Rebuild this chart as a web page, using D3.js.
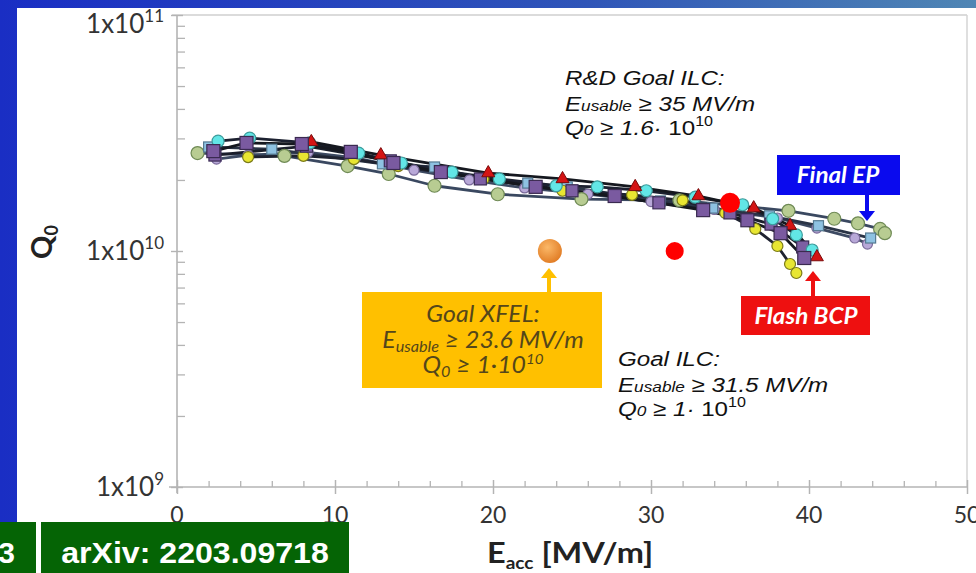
<!DOCTYPE html>
<html><head><meta charset="utf-8">
<script src="https://cdn.jsdelivr.net/npm/d3@7"></script>
<style>html,body{margin:0;padding:0;background:#fff;}svg{display:block;}</style>
</head><body>
<script>
// ---- data (E_acc in MV/m, Q0 in units of 1e10) ----
const xTicks = [0,10,20,30,40,50];
const yTickExps = [9,10,11];
const purpleA = [[2.3,2.65],[4.4,2.87],[7.9,2.84],[11.0,2.63],[13.7,2.36],[16.7,2.16],[22.7,1.87],[27.7,1.71],[33.3,1.49],[36.1,1.35],[38.2,1.19],[39.7,0.934]];
const purpleB = [[2.4,2.55],[8.2,2.78],[13.5,2.41],[19.2,2.02],[25.0,1.80],[30.5,1.60],[35.0,1.45],[37.6,1.30],[39.6,1.04]];
const cyan = [[2.6,2.92],[4.6,3.01],[8.4,2.87],[11.5,2.60],[14.2,2.36],[17.4,2.16],[20.4,2.02],[24.0,1.89],[26.6,1.87],[29.7,1.80],[32.8,1.69],[35.8,1.57],[37.7,1.37],[39.2,1.17],[40.2,1.01]];
const green = [[1.3,2.60],[6.8,2.53],[10.8,2.29],[13.4,2.12],[16.3,1.89],[20.3,1.74],[25.6,1.66],[31.8,1.64],[38.7,1.48],[41.6,1.37],[43.1,1.31],[44.5,1.24],[44.8,1.19]];
const yellow = [[4.5,2.50],[8.0,2.53],[11.2,2.45],[14.0,2.29],[19.4,2.02],[24.4,1.80],[28.8,1.73],[32.0,1.64],[34.7,1.45],[36.6,1.24],[38.0,1.05],[38.8,0.881],[39.2,0.807]];
const red = [[8.5,2.90],[12.9,2.55],[19.7,2.14],[24.4,2.02],[29.0,1.87],[33.0,1.71],[36.5,1.52],[38.8,1.28],[40.5,0.943]];
const lightBlue = [[2.0,2.76],[6.0,2.70],[13.0,2.34],[16.3,2.27],[19.3,2.02],[22.2,1.94],[24.7,1.87],[30.6,1.63],[33.9,1.52],[37.5,1.41],[40.6,1.28],[43.9,1.135]];
const lavender = [[2.5,2.45],[4.5,2.55],[8.3,2.62],[11.3,2.48],[15.0,2.20],[18.5,2.00],[22.0,1.85],[26.0,1.74],[30.0,1.62],[34.0,1.50],[38.0,1.38],[40.5,1.25],[42.9,1.135],[43.7,1.07]];
const goals = [{name:"R&D ILC",e:35,q:1.6,r:10,c:"#ff0000"},{name:"ILC",e:31.5,q:1.0,r:9,c:"#ff0000"}];
const goalXFEL = {e:23.6,q:1.0};

const W=976,H=573;
const svg=d3.select("body").append("svg").attr("width",W).attr("height",H);
const defs=svg.append("defs");
const bg=defs.append("linearGradient").attr("id","bg").attr("x1","0").attr("y1","0").attr("x2","1").attr("y2","0");
bg.append("stop").attr("offset","0").attr("stop-color","#1a2ec4");
bg.append("stop").attr("offset","0.6").attr("stop-color","#2f55b8");
bg.append("stop").attr("offset","1").attr("stop-color","#4f86b4");
const og=defs.append("radialGradient").attr("id","og").attr("cx","0.4").attr("cy","0.35").attr("r","0.7");
og.append("stop").attr("offset","0").attr("stop-color","#fbb868");
og.append("stop").attr("offset","1").attr("stop-color","#e07a22");

svg.append("rect").attr("width",W).attr("height",H).attr("fill","url(#bg)");
svg.append("rect").attr("x",17).attr("y",8).attr("width",W-17).attr("height",H-8).attr("fill","#fff");
svg.append("rect").attr("x",0).attr("y",522).attr("width",17).attr("height",51).attr("fill","#fff");

const x=d3.scaleLinear().domain([0,50]).range([177,967]);
const y=d3.scaleLog().domain([1e9,1e11]).range([487,15]);
const axCol="#b4b4b4";
const LF="Lato, 'Open Sans', sans-serif", AF="'Liberation Sans', Arial, sans-serif";

// stretched text helper
function stext(x0,y0,sx,anchor){
  return svg.append("g").attr("transform",`translate(${x0},${y0}) scale(${sx},1)`)
    .append("text").attr("x",0).attr("y",0).attr("text-anchor",anchor||"start");
}

// frame top & right
svg.append("line").attr("x1",172).attr("x2",967).attr("y1",y(1e11)).attr("y2",y(1e11)).attr("stroke","#cfcfcf").attr("stroke-width",1.5);
svg.append("line").attr("x1",x(50)).attr("x2",x(50)).attr("y1",y(1e11)).attr("y2",y(1e9)).attr("stroke","#d4d4d4").attr("stroke-width",1.5);

// y axis minor ticks (inside)
const yMinor=[];
for(let e=9;e<11;e++) for(let m=2;m<=9;m++) yMinor.push(m*Math.pow(10,e));
const gy=svg.append("g").attr("transform",`translate(${x(0)},0)`)
  .call(d3.axisRight(y).tickValues(yMinor).tickSize(8).tickFormat(""));
gy.selectAll("line").attr("stroke",axCol).attr("stroke-width",1.3);
gy.select(".domain").remove();
svg.append("line").attr("x1",x(0)).attr("x2",x(0)).attr("y1",y(1e11)).attr("y2",y(1e9)+6).attr("stroke",axCol).attr("stroke-width",1.6);
const gy2=svg.append("g").attr("transform",`translate(${x(0)+6},0)`)
  .call(d3.axisLeft(y).tickValues(yTickExps.map(e=>Math.pow(10,e))).tickSize(12).tickFormat(""));
gy2.selectAll("line").attr("stroke",axCol).attr("stroke-width",1.4);
gy2.select(".domain").remove();
yTickExps.forEach(e=>{
  const t=svg.append("text").attr("x",164).attr("y",Math.max(y(Math.pow(10,e))+9,33)).attr("text-anchor","end")
    .attr("font-family",LF).attr("font-size",26).attr("fill","#333");
  t.append("tspan").text("1x10");
  t.append("tspan").attr("dy",-11).attr("font-size",17).text(e);
});

// x axis
const xMinor=d3.range(2,50,2).filter(v=>v%10!==0);
const gx=svg.append("g").attr("transform",`translate(0,${y(1e9)})`)
  .call(d3.axisTop(x).tickValues(xMinor).tickSize(6).tickFormat(""));
gx.selectAll("line").attr("stroke",axCol).attr("stroke-width",1.3);
gx.select(".domain").remove();
const gx2=svg.append("g").attr("transform",`translate(0,${y(1e9)+7})`)
  .call(d3.axisTop(x).tickValues(xTicks).tickSize(14).tickFormat(""));
gx2.selectAll("line").attr("stroke",axCol).attr("stroke-width",1.5);
gx2.select(".domain").remove();
svg.append("line").attr("x1",x(0)-8).attr("x2",x(50)).attr("y1",y(1e9)).attr("y2",y(1e9)).attr("stroke",axCol).attr("stroke-width",1.6);
xTicks.forEach(v=>{
  svg.append("text").attr("x",x(v)).attr("y",523).attr("text-anchor","middle")
    .attr("font-family",LF).attr("font-size",23).attr("fill","#333").text(v);
});

// axis titles
const xt=stext(487,563,1.12).attr("font-family",LF).attr("font-weight","bold").attr("font-size",29).attr("fill","#222");
xt.append("tspan").text("E");
xt.append("tspan").attr("dy",6).attr("font-size",17).text("acc");
xt.append("tspan").attr("dy",-6).text(" [MV/m]");
const yt=svg.append("text").attr("transform","translate(52,242) rotate(-90)").attr("text-anchor","middle")
  .attr("font-family",LF).attr("font-weight","bold").attr("font-size",29).attr("fill","#222");
yt.append("tspan").text("Q");
yt.append("tspan").attr("dy",6).attr("font-size",18).text("0");

// series
const series=[
  {d:lavender,m:"circle",s:5,f:"#b8a8d8",st:"#7a6a9a",lc:"#3d4a62"},
  {d:green,m:"circle",s:6.5,f:"#b8cc92",st:"#6f8a55",lc:"#3a4860"},
  {d:lightBlue,m:"square",s:10,f:"#8ec2e2",st:"#557a92",lc:"#2a3446"},
  {d:yellow,m:"circle",s:5.5,f:"#e8e632",st:"#7a7a18",lc:"#1e2230"},
  {d:purpleB,m:"square",s:12,f:"#7d5fa3",st:"#3c2d55",lc:"#1a1e2a"},
  {d:cyan,m:"circle",s:6,f:"#62e6e6",st:"#3c9c9c",lc:"#1c2130"},
  {d:red,m:"triangle",s:11,f:"#d41414",st:"#7a0a0a",lc:"#15181f"},
  {d:purpleA,m:"square",s:13,f:"#7a5aa0",st:"#3a2a50",lc:"#15181f"}
];
const line=d3.line().x(d=>x(d[0])).y(d=>y(d[1]*1e10));
series.forEach(sr=>{
  svg.append("path").attr("d",line(sr.d)).attr("fill","none").attr("stroke",sr.lc).attr("stroke-width",2.8).attr("stroke-linejoin","round");
});
series.forEach(sr=>{
  const g=svg.append("g");
  sr.d.forEach(p=>{
    const cx=x(p[0]),cy=y(p[1]*1e10);
    if(sr.m==="circle") g.append("circle").attr("cx",cx).attr("cy",cy).attr("r",sr.s).attr("fill",sr.f).attr("stroke",sr.st).attr("stroke-width",1.2);
    else if(sr.m==="square") g.append("rect").attr("x",cx-sr.s/2).attr("y",cy-sr.s/2).attr("width",sr.s).attr("height",sr.s).attr("fill",sr.f).attr("stroke",sr.st).attr("stroke-width",1.2);
    else g.append("path").attr("d",d3.symbol(d3.symbolTriangle,sr.s*sr.s*0.6)()).attr("transform",`translate(${cx},${cy})`).attr("fill",sr.f).attr("stroke",sr.st).attr("stroke-width",1);
  });
});

// goal dots
goals.forEach(g=>svg.append("circle").attr("cx",x(g.e)).attr("cy",y(g.q*1e10)).attr("r",g.r).attr("fill",g.c));
svg.append("circle").attr("cx",x(goalXFEL.e)).attr("cy",y(goalXFEL.q*1e10)).attr("r",12).attr("fill","url(#og)");

// arrows helper
function arrow(x0,yFrom,yTip,col){
  const dir=yTip>yFrom?1:-1;
  svg.append("line").attr("x1",x0).attr("x2",x0).attr("y1",yFrom).attr("y2",yTip-dir*9).attr("stroke",col).attr("stroke-width",4);
  svg.append("path").attr("d",`M${x0-8},${yTip-dir*10}L${x0+8},${yTip-dir*10}L${x0},${yTip}Z`).attr("fill",col);
}

// XFEL box
svg.append("rect").attr("x",362).attr("y",292).attr("width",240).attr("height",96).attr("fill","#ffc000");
arrow(549,292,268,"#ffc000");
const xc="#54461a";
stext(483,322,1.08,"middle").attr("font-family",LF).attr("font-style","italic").attr("font-size",23).attr("fill",xc).text("Goal XFEL:");
const t2=stext(483,348,1.08,"middle").attr("font-family",LF).attr("font-style","italic").attr("font-size",23).attr("fill",xc);
t2.append("tspan").text("E");t2.append("tspan").attr("dy",4).attr("font-size",15).text("usable");t2.append("tspan").attr("dy",-4).text(" ≥ 23.6 MV/m");
const t3=stext(483,373,1.08,"middle").attr("font-family",LF).attr("font-style","italic").attr("font-size",23).attr("fill",xc);
t3.append("tspan").text("Q");t3.append("tspan").attr("dy",4).attr("font-size",15).text("0");t3.append("tspan").attr("dy",-4).text(" ≥ 1·10");t3.append("tspan").attr("dy",-9).attr("font-size",14).text("10");

// Final EP
svg.append("rect").attr("x",777).attr("y",155).attr("width",123).attr("height",40).attr("fill","#0a0aee");
stext(838,183,1.1,"middle").attr("font-family",LF).attr("font-style","italic").attr("font-weight","bold").attr("font-size",22).attr("fill","#fff").text("Final EP");
arrow(867,195,221,"#0a0aee");
// Flash BCP
svg.append("rect").attr("x",741).attr("y",296).attr("width",129).attr("height",39).attr("fill","#ee1010");
stext(806,324,1.1,"middle").attr("font-family",LF).attr("font-style","italic").attr("font-weight","bold").attr("font-size",22).attr("fill","#fff").text("Flash BCP");
arrow(813,296,271,"#ee1010");

// ILC texts
function goalText(x0,y0,lines){
  stext(x0,y0,1.15).attr("font-family",AF).attr("font-style","italic").attr("font-size",21).attr("fill","#111").text(lines[0]);
  const a=stext(x0,y0+26,1.15).attr("font-family",AF).attr("font-style","italic").attr("font-size",21).attr("fill","#111");
  a.append("tspan").text("E");a.append("tspan").attr("font-size",15).text("usable");a.append("tspan").text(" ≥ "+lines[1]);
  const b=stext(x0,y0+50,1.15).attr("font-family",AF).attr("font-size",21).attr("fill","#111");
  b.append("tspan").attr("font-style","italic").text("Q");b.append("tspan").attr("font-style","italic").attr("font-size",15).text("0");
  b.append("tspan").attr("font-style","italic").text(" ≥ "+lines[2]+"· ");b.append("tspan").text("10");b.append("tspan").attr("dy",-9).attr("font-size",14).text("10");
}
goalText(565,85,["R&D Goal ILC:","35 MV/m","1.6"]);
goalText(618,366,["Goal ILC:","31.5 MV/m","1"]);

// bottom labels
svg.append("rect").attr("x",0).attr("y",522).attr("width",36).attr("height",51).attr("fill","#056405");
svg.append("text").attr("x",15).attr("y",563).attr("text-anchor","end").attr("font-family",AF).attr("font-weight","bold").attr("font-size",30).attr("fill","#fff").text("3");
svg.append("rect").attr("x",41).attr("y",522).attr("width",308).attr("height",51).attr("fill","#056405");
stext(195,563,1.07,"middle").attr("font-family",AF).attr("font-weight","bold").attr("font-size",30).attr("fill","#fff").text("arXiv: 2203.09718");
</script>
</body></html>
